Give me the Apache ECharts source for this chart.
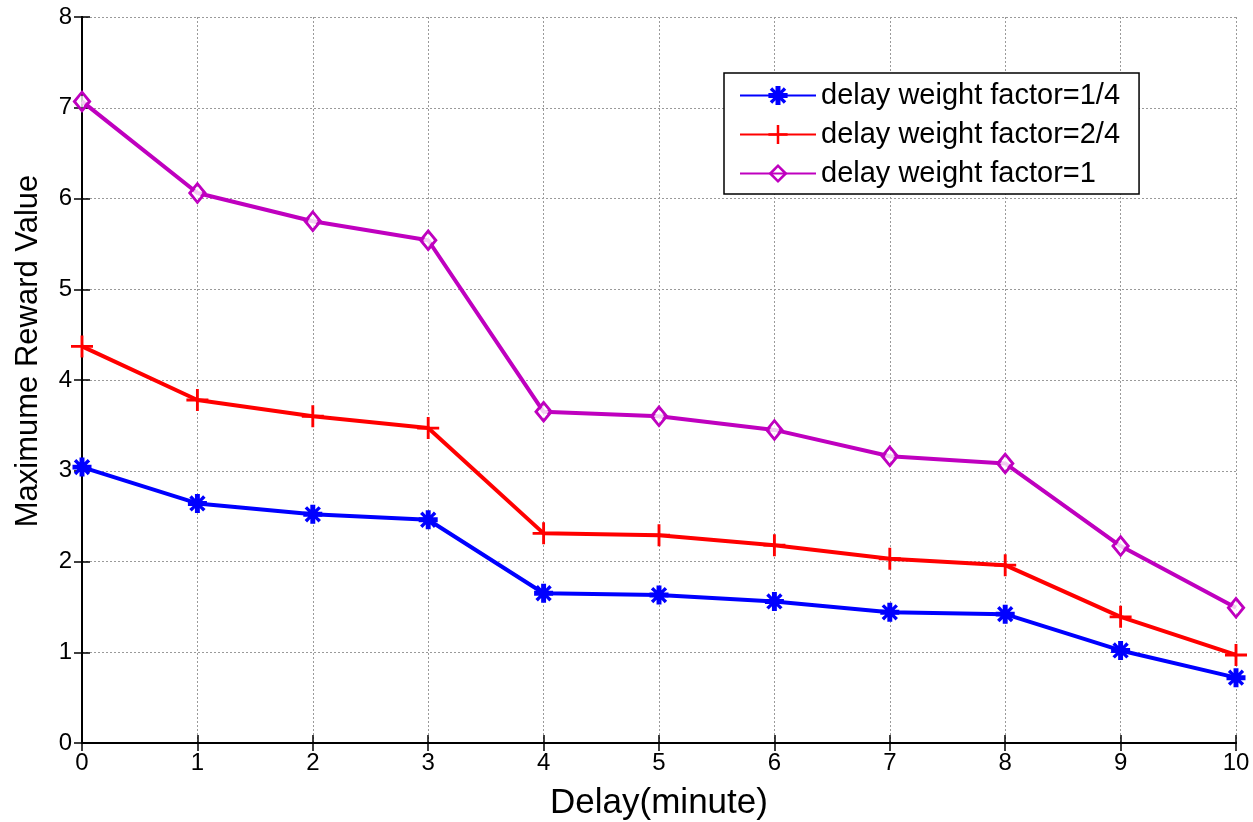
<!DOCTYPE html>
<html>
<head>
<meta charset="utf-8">
<script src="https://cdn.jsdelivr.net/npm/echarts@6/dist/echarts.min.js"></script>
<style>
html, body { margin: 0; padding: 0; background: #fff; }
#chart { width: 1253px; height: 822px; }
</style>
</head>
<body>
<div id="chart"></div>
<script>
// delay in minutes
var delays = [0, 1, 2, 3, 4, 5, 6, 7, 8, 9, 10];
var quarterVals = [3.04, 2.64, 2.52, 2.46, 1.65, 1.63, 1.56, 1.44, 1.42, 1.02, 0.72];
var halfVals = [4.37, 3.78, 3.60, 3.47, 2.31, 2.29, 2.18, 2.03, 1.96, 1.39, 0.97];
var fullVals = [7.07, 6.06, 5.75, 5.54, 3.65, 3.60, 3.45, 3.16, 3.08, 2.17, 1.49];
var seriesNames = ['delay weight factor=1/4', 'delay weight factor=2/4', 'delay weight factor=1'];

var font = 'Liberation Sans, Arial, sans-serif';
var plusPath = 'path://M-1.3,-10L1.3,-10L1.3,-1.3L10,-1.3L10,1.3L1.3,1.3L1.3,10L-1.3,10L-1.3,1.3L-10,1.3L-10,-1.3L-1.3,-1.3Z';
var starPath = 'path://M-2.6,-10L2.6,-10L2.6,-5L6,-8.6L8.6,-6L5,-2.6L10,-2.6L10,2.6L5,2.6L8.6,6L6,8.6L2.6,5L2.6,10L-2.6,10L-2.6,5L-6,8.6L-8.6,6L-5,2.6L-10,2.6L-10,-2.6L-5,-2.6L-8.6,-6L-6,-8.6L-2.6,-5Z';
// hollow diamond: outer clockwise, inner counter-clockwise
var ringPath = 'path://M0,-11L9,0L0,11L-9,0ZM0,-6.8L-5.4,0L0,6.8L5.4,0Z';

function pairs(vals) {
    return delays.map(function (d, i) { return [d, vals[i]]; });
}

var chart = echarts.init(document.getElementById('chart'));

var gridLine = { show: true, lineStyle: { color: '#9a9a9a', type: [2, 2], width: 1 } };
var boxLine = { show: true, lineStyle: { color: '#000', width: 2 } };
var inTick = { show: true, inside: true, length: 8, lineStyle: { color: '#000', width: 1.5 } };

var option = {
    backgroundColor: '#fff',
    animation: false,
    grid: { left: 82, right: 17, top: 17, bottom: 79, containLabel: false, outerBoundsMode: 'none' },
    legend: {
        data: seriesNames,
        orient: 'vertical',
        left: 724,
        top: 73,
        padding: [8, 19, 6, 15],
        itemGap: 10,
        itemWidth: 76,
        itemHeight: 24,
        backgroundColor: '#fff',
        borderColor: '#000',
        borderWidth: 1.5,
        borderRadius: 0,
        textStyle: { fontFamily: font, fontSize: 29, color: '#000' }
    },
    xAxis: [
        {
            type: 'value', min: 0, max: 10, interval: 1,
            name: 'Delay(minute)', nameLocation: 'middle', nameGap: 43,
            nameTextStyle: { fontFamily: font, fontSize: 35, color: '#000' },
            axisLine: boxLine, axisTick: inTick, splitLine: gridLine,
            axisLabel: { fontFamily: font, fontSize: 24, color: '#000', margin: 8 }
        },
        {
            type: 'value', min: 0, max: 10, interval: 1, position: 'top',
            axisLine: boxLine, axisTick: inTick, splitLine: { show: false },
            axisLabel: { show: false }
        }
    ],
    yAxis: [
        {
            type: 'value', min: 0, max: 8, interval: 1,
            name: 'Maximume Reward Value', nameLocation: 'middle', nameGap: 38,
            nameTextStyle: { fontFamily: font, fontSize: 31, color: '#000', padding: [0, 0, 0, 58] },
            axisLine: boxLine, axisTick: inTick, splitLine: gridLine,
            axisLabel: { fontFamily: font, fontSize: 24, color: '#000', margin: 10 }
        },
        {
            type: 'value', min: 0, max: 8, interval: 1, position: 'right',
            axisLine: boxLine, axisTick: inTick, splitLine: { show: false },
            axisLabel: { show: false }
        }
    ],
    series: [
        {
            name: seriesNames[0], type: 'line', data: pairs(quarterVals),
            symbol: starPath, symbolSize: 19,
            lineStyle: { color: '#0000ff', width: 4 },
            itemStyle: { color: '#0000ff', borderWidth: 0 },
            z: 5
        },
        {
            name: seriesNames[1], type: 'line', data: pairs(halfVals),
            symbol: plusPath, symbolSize: 22,
            lineStyle: { color: '#ff0000', width: 4 },
            itemStyle: { color: '#ff0000', borderWidth: 0 },
            z: 4
        },
        {
            name: seriesNames[2], type: 'line', data: pairs(fullVals),
            symbol: ringPath, symbolSize: [19, 23],
            lineStyle: { color: '#bf00bf', width: 4 },
            itemStyle: { color: '#bf00bf', borderWidth: 0 },
            z: 2
        },
        {
            // white inside of the diamonds
            name: 'fill', type: 'scatter', data: pairs(fullVals),
            symbol: 'diamond', symbolSize: [10, 13],
            itemStyle: { color: '#fff' },
            silent: true,
            z: 3
        }
    ]
};

chart.setOption(option);
</script>
</body>
</html>
